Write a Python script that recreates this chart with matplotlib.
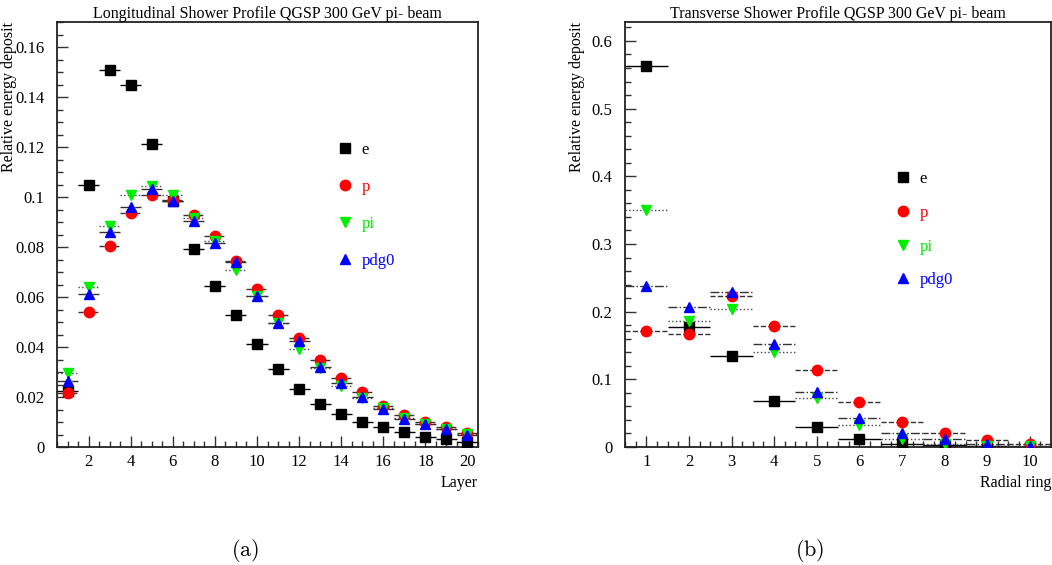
import matplotlib
matplotlib.use("Agg")
import matplotlib.pyplot as plt
from matplotlib.lines import Line2D
from matplotlib.ticker import MultipleLocator
import numpy as np

plt.rcParams['font.family'] = ['Liberation Serif', 'DejaVu Serif']
plt.rcParams['mathtext.fontset'] = 'cm'

# Longitudinal profile: relative energy deposit per layer
layers = np.arange(1, 21)
long_e = [0.0225, 0.105, 0.1506, 0.1449, 0.1213, 0.0985, 0.0793, 0.0644, 0.0528, 0.0411,
          0.0311, 0.0231, 0.0171, 0.0131, 0.0100, 0.0080, 0.0060, 0.0042, 0.0032, 0.0021]
long_p = [0.0218, 0.0542, 0.0803, 0.0937, 0.1008, 0.0989, 0.0930, 0.0843, 0.0744, 0.0631,
          0.0527, 0.0438, 0.0347, 0.0276, 0.0220, 0.0165, 0.0129, 0.0101, 0.0080, 0.0056]
long_pi = [0.0297, 0.0640, 0.0885, 0.1008, 0.1045, 0.1008, 0.0915, 0.0825, 0.0710, 0.0603,
           0.0495, 0.0394, 0.0315, 0.0245, 0.0197, 0.0155, 0.0116, 0.0093, 0.0072, 0.0052]
long_pdg0 = [0.0265, 0.0614, 0.0860, 0.0960, 0.1032, 0.0985, 0.0904, 0.0817, 0.0740, 0.0605,
             0.0498, 0.0425, 0.0322, 0.0255, 0.0200, 0.0153, 0.0112, 0.0094, 0.0072, 0.0048]

# Transverse profile: relative energy deposit per radial ring
rings = np.arange(1, 11)
trans_e = [0.563, 0.178, 0.134, 0.068, 0.0296, 0.0118, 0.005, 0.0025, 0.0012, 0.0006]
trans_p = [0.171, 0.1675, 0.2227, 0.1788, 0.1133, 0.067, 0.0374, 0.0202, 0.0103, 0.004]
trans_pi = [0.350, 0.1857, 0.2044, 0.1409, 0.0724, 0.0325, 0.0114, 0.005, 0.002, 0.001]
trans_pdg0 = [0.238, 0.2064, 0.229, 0.1517, 0.0808, 0.0429, 0.0207, 0.0114, 0.0049, 0.002]

labels = ['e', 'p', 'pi', 'pdg0']
colors = ['black', 'red', '#00ee00', 'blue']
markers = ['s', 'o', 'v', '^']
err_styles = ['-', '--', ':', '-.']
err_colors = ['black', '#333333', '#444444', '#333333']

fig = plt.figure(figsize=(10.52, 5.65), dpi=100)
W, H = 1052, 565


def px_axes(x0, y0, x1, y1):
    return fig.add_axes([x0 / W, 1 - y1 / H, (x1 - x0) / W, (y1 - y0) / H])


ax1 = px_axes(57, 22, 478, 447)
ax2 = px_axes(625, 22, 1051, 447)


def draw(ax, x, series, ylim, xlim, title, xlabel, ylabel_x, legend_pos, spacing):
    handles = []
    for vals, lab, c, m, ls, ec in zip(series, labels, colors, markers, err_styles, err_colors):
        eb = ax.errorbar(x, vals, xerr=0.5, fmt=m, color=c, ms=7.5, mec=c,
                         ecolor=ec, elinewidth=1.0, capsize=0, zorder=3)
        eb[2][0].set_linestyle(ls)
        handles.append(Line2D([], [], ls='none', marker=m, color=c, ms=7.5))
    ax.set_xlim(*xlim)
    ax.set_ylim(*ylim)
    ax.set_title(title, fontsize=11.5, pad=3)
    ax.set_xlabel(xlabel, fontsize=11.5, loc='right')
    ax.xaxis.set_label_coords(1.0, -0.065)
    ax.set_ylabel('Relative energy deposit', fontsize=11.5, loc='top')
    ax.yaxis.set_label_coords(ylabel_x, 1.0)
    ax.tick_params(which='both', direction='in', top=False, right=False,
                   labelsize=12, width=1.0, color='#333333')
    ax.tick_params(which='major', length=8)
    ax.tick_params(which='minor', length=4)
    ax.tick_params(axis='y', pad=9)
    ax.tick_params(axis='x', pad=5)
    for s in ax.spines.values():
        s.set_linewidth(1.3)
        s.set_color('#222222')
    leg = ax.legend(handles, labels, loc='center left', bbox_to_anchor=legend_pos,
                    frameon=False, fontsize=12, labelspacing=spacing,
                    handletextpad=0.4, handlelength=1.2, borderpad=0)
    for t, c in zip(leg.get_texts(), colors):
        t.set_color(c)


draw(ax1, layers, [long_e, long_p, long_pi, long_pdg0], (0, 0.17), (0.5, 20.5),
     'Longitudinal Shower Profile QGSP 300 GeV pi- beam', 'Layer', -0.095,
     (0.641, 0.569), 1.26)
ax1.xaxis.set_major_locator(MultipleLocator(2))
ax1.xaxis.set_minor_locator(MultipleLocator(0.5))
ax1.yaxis.set_minor_locator(MultipleLocator(0.005))
ax1.set_yticks([0, 0.02, 0.04, 0.06, 0.08, 0.1, 0.12, 0.14, 0.16],
               ['0', '0.02', '0.04', '0.06', '0.08', '0.1', '0.12', '0.14', '0.16'])

draw(ax2, rings, [trans_e, trans_p, trans_pi, trans_pdg0], (0, 0.628), (0.5, 10.5),
     'Transverse Shower Profile QGSP 300 GeV pi- beam', 'Radial ring', -0.094,
     (0.609, 0.511), 1.06)
ax2.xaxis.set_major_locator(MultipleLocator(1))
ax2.xaxis.set_minor_locator(MultipleLocator(0.25))
ax2.yaxis.set_minor_locator(MultipleLocator(0.02))
ax2.set_yticks([0, 0.1, 0.2, 0.3, 0.4, 0.5, 0.6],
               ['0', '0.1', '0.2', '0.3', '0.4', '0.5', '0.6'])

fig.text(245 / W, 1 - 550 / H, r'$\mathrm{(a)}$', fontsize=16, ha='center', va='center')
fig.text(810 / W, 1 - 550 / H, r'$\mathrm{(b)}$', fontsize=16, ha='center', va='center')

fig.savefig('out.png', dpi=100)
